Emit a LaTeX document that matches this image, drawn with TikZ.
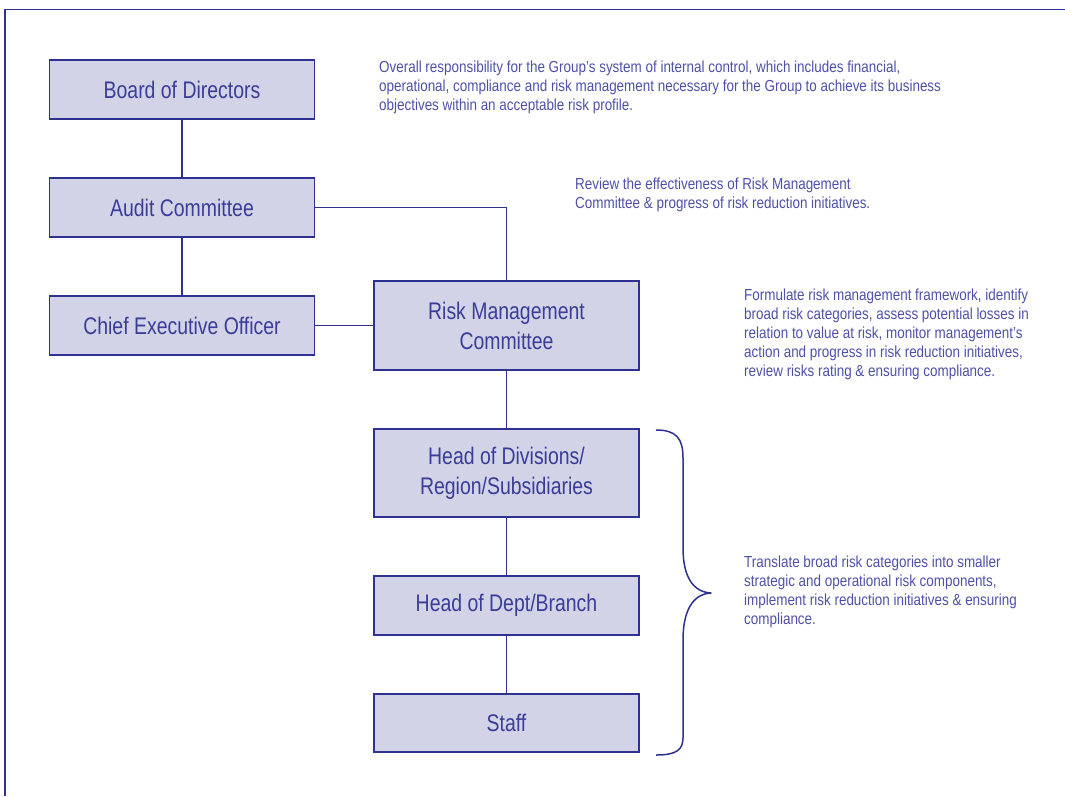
\documentclass[tikz,border=0pt]{standalone}
\usepackage{fontspec}
\setmainfont[FakeStretch=0.84]{Liberation Sans}
\newfontfamily\boxfont[FakeStretch=0.81]{Liberation Sans}
\definecolor{navy}{RGB}{46,49,146}
\definecolor{boxfill}{RGB}{211,211,232}
\definecolor{txt}{RGB}{58,60,152}
\definecolor{desc}{RGB}{78,80,168}
\tikzset{
  orgbox/.style={draw=navy, line width=1.8pt, fill=boxfill, minimum width=265pt, text=txt,
    font=\boxfont\fontsize{24}{30}\selectfont, align=center, inner sep=0pt},
  conn/.style={draw=navy, line width=1.5pt},
  desctext/.style={text=desc, font=\fontsize{16}{19}\selectfont, align=left, anchor=base west, inner sep=0pt}
}
\begin{document}
\begin{tikzpicture}[x=1pt,y=-1pt]
\useasboundingbox (0,0) rectangle (1065,796);
\draw[navy, line width=1.6pt] (5,796) -- (5,9.5) -- (1065,9.5);
% boxes
\node[orgbox, minimum height=59pt] (bod) at (182,89.5) {Board of Directors};
\node[orgbox, minimum height=59pt] (ac) at (182,207.5) {Audit Committee};
\node[orgbox, minimum height=59pt] (ceo) at (182,325.5) {Chief Executive Officer};
\node[orgbox, minimum height=89pt] (rmc) at (506.5,325.5) {Risk Management\\Committee};
\node[orgbox, minimum height=88pt] (hod) at (506.5,473) {Head of Divisions/\\Region/Subsidiaries};
\node[orgbox, minimum height=59pt] (hdb) at (506.5,605.5) {Head of Dept/Branch};
\node[orgbox, minimum height=58pt] (staff) at (506.5,723) {Staff};
% connectors
\draw[conn] (bod) -- (ac);
\draw[conn] (ac) -- (ceo);
\draw[conn] (ac.east) -| (rmc.north);
\draw[conn] (ceo) -- (rmc);
\draw[conn] (rmc) -- (hod);
\draw[conn] (hod) -- (hdb);
\draw[conn] (hdb) -- (staff);
% brace
\draw[navy, line width=1.5pt, line join=round] (656,430) .. controls (676,430) and (683,438) .. (683,458)
  -- (683,548) .. controls (683,575) and (692,592) .. (711,593)
  .. controls (692,594) and (683,612) .. (683,640)
  -- (683,738) .. controls (683,750) and (676,755) .. (656,755);
% descriptions (base anchor = baseline of last line)
\node[desctext] (t1) at (379,110) {Overall responsibility for the Group’s system of internal control, which includes financial,\\operational, compliance and risk management necessary for the Group to achieve its business\\objectives within an acceptable risk profile.};
\node[desctext] (t2) at (575,208) {Review the effectiveness of Risk Management\\Committee \& progress of risk reduction initiatives.};
\node[desctext] (t3) at (744,376) {Formulate risk management framework, identify\\broad risk categories, assess potential losses in\\relation to value at risk, monitor management’s\\action and progress in risk reduction initiatives,\\review risks rating \& ensuring compliance.};
\node[desctext] (t4) at (744,624) {Translate broad risk categories into smaller\\strategic and operational risk components,\\implement risk reduction initiatives \& ensuring\\compliance.};
\end{tikzpicture}
\end{document}
